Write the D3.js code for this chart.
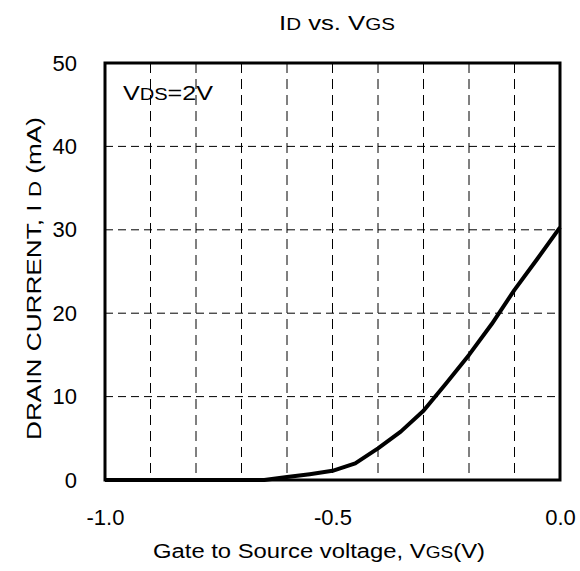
<!DOCTYPE html>
<html>
<head>
<meta charset="utf-8">
<script src="https://cdn.jsdelivr.net/npm/d3@7"></script>
<style>
  body { margin: 0; background: #fff; }
  text { font-family: "Liberation Sans", Arial, sans-serif; fill: #000; }
</style>
</head>
<body>
<svg id="chart" width="580" height="571"></svg>
<script>
// ---- data ----
const vgs = [-1.0, -0.9, -0.8, -0.7, -0.65, -0.6, -0.55, -0.5, -0.45, -0.4, -0.35, -0.3, -0.25, -0.2, -0.15, -0.1, -0.05, 0.0];
const idCurrent = [0, 0, 0, 0, 0, 0.35, 0.7, 1.1, 2.0, 3.8, 5.8, 8.3, 11.6, 15.0, 18.7, 22.8, 26.5, 30.3];
const xTickValues = [-1.0, -0.5, 0.0];
const xTickLabels = ["-1.0", "-0.5", "0.0"];
const xGridValues = [-0.9, -0.8, -0.7, -0.6, -0.5, -0.4, -0.3, -0.2, -0.1];
const yTickValues = [0, 10, 20, 30, 40, 50];
const yGridValues = [10, 20, 30, 40];

const svg = d3.select("#chart");
const m = { left: 105, right: 560, top: 63, bottom: 480 };
const x = d3.scaleLinear().domain([-1, 0]).range([m.left, m.right]);
const y = d3.scaleLinear().domain([0, 50]).range([m.bottom, m.top]);

// grid
svg.append("g").selectAll("line").data(xGridValues).join("line")
  .attr("x1", d => x(d)).attr("x2", d => x(d))
  .attr("y1", m.top).attr("y2", m.bottom)
  .attr("stroke", "#000").attr("stroke-width", 1)
  .attr("stroke-dasharray", "10,6");
svg.append("g").selectAll("line").data(yGridValues).join("line")
  .attr("y1", d => y(d)).attr("y2", d => y(d))
  .attr("x1", m.left).attr("x2", m.right)
  .attr("stroke", "#000").attr("stroke-width", 1)
  .attr("stroke-dasharray", "8,5");

// axes (labels only)
const xAxis = d3.axisBottom(x).tickValues(xTickValues)
  .tickFormat((d, i) => xTickLabels[i]).tickSize(0).tickPadding(29);
const gx = svg.append("g").attr("transform", `translate(0,${m.bottom})`).call(xAxis);
gx.select(".domain").remove();
gx.selectAll("text").style("font-size", "22px").style("font-family", "Liberation Sans, Arial, sans-serif");

const yAxis = d3.axisLeft(y).tickValues(yTickValues).tickSize(0).tickPadding(28);
const gy = svg.append("g").attr("transform", `translate(${m.left},0)`).call(yAxis);
gy.select(".domain").remove();
gy.selectAll("text").style("font-size", "22px").style("font-family", "Liberation Sans, Arial, sans-serif");

// curve
const line = d3.line().x((d, i) => x(vgs[i])).y(d => y(d));
svg.append("path").datum(idCurrent)
  .attr("d", line).attr("fill", "none")
  .attr("stroke", "#000").attr("stroke-width", 4)
  .attr("stroke-linejoin", "round");

// frame
svg.append("rect").attr("x", m.left).attr("y", m.top)
  .attr("width", m.right - m.left).attr("height", m.bottom - m.top)
  .attr("fill", "none").attr("stroke", "#000").attr("stroke-width", 3);

// title
const t = svg.append("text").attr("x", 279).attr("y", 30)
  .attr("textLength", 116).attr("lengthAdjust", "spacingAndGlyphs").style("font-size", "20px");
t.append("tspan").text("I");
t.append("tspan").text("D").style("font-size", "16px");
t.append("tspan").text(" vs. V");
t.append("tspan").text("GS").style("font-size", "16px");

// annotation
const a = svg.append("text").attr("x", 123).attr("y", 100)
  .attr("textLength", 90).attr("lengthAdjust", "spacingAndGlyphs").style("font-size", "20px");
a.append("tspan").text("V");
a.append("tspan").text("DS").style("font-size", "16px");
a.append("tspan").text("=2V");

// x axis title
const xt = svg.append("text").attr("x", 153).attr("y", 558)
  .attr("textLength", 332).attr("lengthAdjust", "spacingAndGlyphs").style("font-size", "20px");
xt.append("tspan").text("Gate to Source voltage, V");
xt.append("tspan").text("GS").style("font-size", "16px");
xt.append("tspan").text("(V)");

// y axis title
const yt = svg.append("text").attr("transform", "translate(41,440) rotate(-90)")
  .attr("textLength", 323).attr("lengthAdjust", "spacingAndGlyphs").style("font-size", "20px");
yt.append("tspan").text("DRAIN CURRENT, I ");
yt.append("tspan").text("D").style("font-size", "17px");
yt.append("tspan").text(" (mA)");
</script>
</body>
</html>
